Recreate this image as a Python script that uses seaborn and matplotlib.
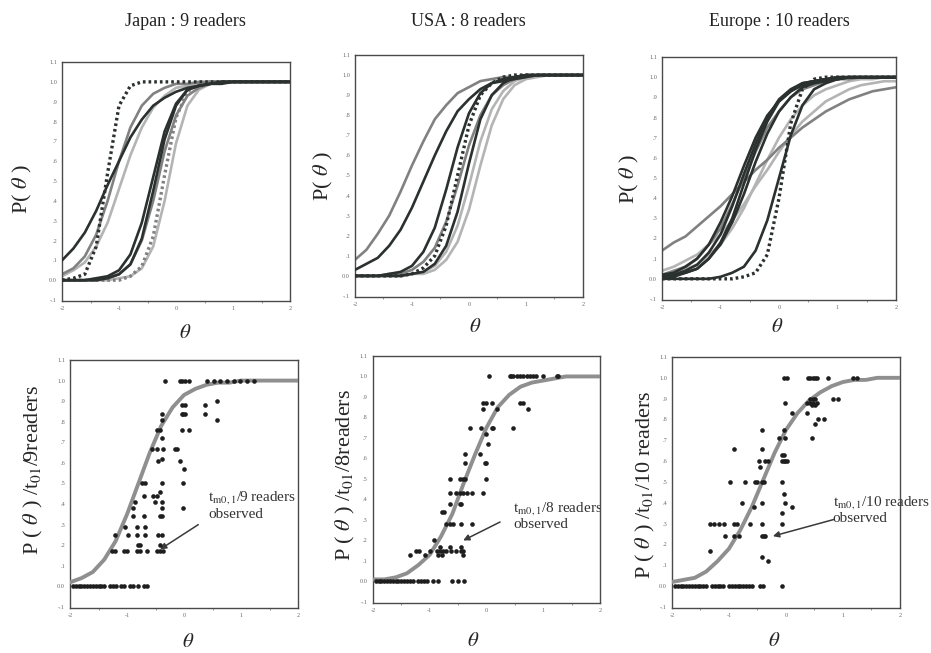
import numpy as np
import pandas as pd
import seaborn as sns
import matplotlib.pyplot as plt
from matplotlib.ticker import MultipleLocator

sns.set_style("white")
plt.rcParams['font.family'] = ['Liberation Serif', 'DejaVu Serif']
plt.rcParams['mathtext.fontset'] = 'stix'

# REJILLA DE THETA DONDE SE LEEN LAS CURVAS
theta_grid = [-2.0, -1.8, -1.6, -1.4, -1.2, -1.0, -0.8, -0.6, -0.4, -0.2, 0.0,
              0.2, 0.4, 0.6, 0.8, 1.0, 1.2, 1.4, 1.6, 1.8, 2.0]

# CURVAS DE CADA LECTOR - JAPON (9)
jp_curves = [
    [0.00, 0.01, 0.03, 0.17, 0.54, 0.88, 0.98, 1.00, 1.00, 1.00, 1.00, 1.00, 1.00, 1.00, 1.00, 1.00, 1.00, 1.00, 1.00, 1.00, 1.00],
    [0.10, 0.16, 0.24, 0.35, 0.48, 0.60, 0.72, 0.81, 0.88, 0.92, 0.95, 0.97, 0.98, 0.99, 0.99, 1.00, 1.00, 1.00, 1.00, 1.00, 1.00],
    [0.03, 0.06, 0.12, 0.23, 0.40, 0.60, 0.77, 0.88, 0.94, 0.97, 0.99, 0.99, 1.00, 1.00, 1.00, 1.00, 1.00, 1.00, 1.00, 1.00, 1.00],
    [0.02, 0.05, 0.09, 0.17, 0.29, 0.46, 0.63, 0.77, 0.87, 0.93, 0.97, 0.98, 0.99, 1.00, 1.00, 1.00, 1.00, 1.00, 1.00, 1.00, 1.00],
    [0.00, 0.00, 0.00, 0.01, 0.02, 0.05, 0.13, 0.29, 0.52, 0.75, 0.89, 0.96, 0.98, 0.99, 1.00, 1.00, 1.00, 1.00, 1.00, 1.00, 1.00],
    [0.00, 0.00, 0.00, 0.00, 0.01, 0.03, 0.08, 0.21, 0.45, 0.71, 0.88, 0.96, 0.98, 0.99, 1.00, 1.00, 1.00, 1.00, 1.00, 1.00, 1.00],
    [0.00, 0.00, 0.00, 0.00, 0.01, 0.03, 0.08, 0.20, 0.40, 0.65, 0.83, 0.93, 0.97, 0.99, 1.00, 1.00, 1.00, 1.00, 1.00, 1.00, 1.00],
    [0.00, 0.00, 0.00, 0.00, 0.00, 0.00, 0.02, 0.07, 0.22, 0.53, 0.82, 0.95, 0.99, 1.00, 1.00, 1.00, 1.00, 1.00, 1.00, 1.00, 1.00],
    [0.00, 0.00, 0.00, 0.00, 0.00, 0.01, 0.02, 0.06, 0.17, 0.40, 0.69, 0.88, 0.96, 0.99, 1.00, 1.00, 1.00, 1.00, 1.00, 1.00, 1.00],
]
jp_tones = ['dark', 'dark', 'grey', 'light', 'dark', 'dark', 'grey', 'grey', 'light']
jp_dotted = [True, False, False, False, False, False, False, True, False]

# CURVAS DE CADA LECTOR - USA (8)
us_curves = [
    [0.08, 0.13, 0.21, 0.30, 0.42, 0.55, 0.67, 0.78, 0.85, 0.91, 0.94, 0.97, 0.98, 0.99, 0.99, 1.00, 1.00, 1.00, 1.00, 1.00, 1.00],
    [0.03, 0.06, 0.09, 0.15, 0.23, 0.34, 0.47, 0.60, 0.72, 0.82, 0.88, 0.93, 0.96, 0.97, 0.98, 0.99, 1.00, 1.00, 1.00, 1.00, 1.00],
    [0.00, 0.00, 0.00, 0.01, 0.02, 0.05, 0.12, 0.24, 0.43, 0.64, 0.81, 0.91, 0.96, 0.98, 0.99, 1.00, 1.00, 1.00, 1.00, 1.00, 1.00],
    [0.00, 0.00, 0.00, 0.00, 0.00, 0.01, 0.04, 0.10, 0.25, 0.50, 0.75, 0.90, 0.96, 0.99, 1.00, 1.00, 1.00, 1.00, 1.00, 1.00, 1.00],
    [0.00, 0.00, 0.00, 0.01, 0.01, 0.03, 0.07, 0.14, 0.27, 0.45, 0.65, 0.80, 0.90, 0.95, 0.98, 0.99, 1.00, 1.00, 1.00, 1.00, 1.00],
    [0.00, 0.00, 0.00, 0.00, 0.00, 0.01, 0.02, 0.06, 0.15, 0.32, 0.56, 0.78, 0.90, 0.96, 0.99, 1.00, 1.00, 1.00, 1.00, 1.00, 1.00],
    [0.00, 0.00, 0.00, 0.00, 0.00, 0.01, 0.02, 0.05, 0.12, 0.25, 0.45, 0.67, 0.83, 0.92, 0.97, 0.99, 1.00, 1.00, 1.00, 1.00, 1.00],
    [0.00, 0.00, 0.00, 0.00, 0.00, 0.01, 0.01, 0.03, 0.08, 0.17, 0.33, 0.55, 0.75, 0.88, 0.95, 0.98, 0.99, 1.00, 1.00, 1.00, 1.00],
]
us_tones = ['grey', 'dark', 'dark', 'dark', 'grey', 'dark', 'light', 'light']
us_dotted = [False, False, False, True, False, False, False, False]

# CURVAS DE CADA LECTOR - EUROPA (10)
eu_curves = [
    [0.14, 0.18, 0.21, 0.26, 0.31, 0.36, 0.42, 0.48, 0.54, 0.59, 0.65, 0.70, 0.75, 0.79, 0.83, 0.86, 0.89, 0.91, 0.93, 0.94, 0.95],
    [0.04, 0.06, 0.09, 0.12, 0.17, 0.22, 0.29, 0.37, 0.46, 0.54, 0.63, 0.71, 0.78, 0.83, 0.88, 0.91, 0.94, 0.96, 0.97, 0.98, 0.98],
    [0.02, 0.03, 0.06, 0.10, 0.17, 0.28, 0.41, 0.56, 0.70, 0.81, 0.88, 0.93, 0.96, 0.98, 0.99, 0.99, 1.00, 1.00, 1.00, 1.00, 1.00],
    [0.01, 0.02, 0.04, 0.07, 0.13, 0.22, 0.36, 0.52, 0.67, 0.80, 0.89, 0.94, 0.97, 0.98, 0.99, 1.00, 1.00, 1.00, 1.00, 1.00, 1.00],
    [0.01, 0.01, 0.03, 0.05, 0.10, 0.18, 0.30, 0.47, 0.64, 0.78, 0.88, 0.93, 0.97, 0.98, 0.99, 1.00, 1.00, 1.00, 1.00, 1.00, 1.00],
    [0.02, 0.04, 0.06, 0.10, 0.17, 0.25, 0.37, 0.50, 0.63, 0.75, 0.83, 0.90, 0.94, 0.96, 0.98, 0.99, 0.99, 1.00, 1.00, 1.00, 1.00],
    [0.01, 0.02, 0.03, 0.05, 0.10, 0.17, 0.28, 0.42, 0.58, 0.72, 0.83, 0.90, 0.95, 0.97, 0.98, 0.99, 1.00, 1.00, 1.00, 1.00, 1.00],
    [0.02, 0.03, 0.05, 0.07, 0.12, 0.17, 0.25, 0.35, 0.47, 0.59, 0.70, 0.79, 0.86, 0.91, 0.94, 0.96, 0.98, 0.99, 0.99, 1.00, 1.00],
    [0.00, 0.00, 0.00, 0.00, 0.00, 0.01, 0.03, 0.06, 0.14, 0.29, 0.50, 0.71, 0.86, 0.94, 0.97, 0.99, 1.00, 1.00, 1.00, 1.00, 1.00],
    [0.00, 0.00, 0.00, 0.00, 0.00, 0.00, 0.00, 0.01, 0.03, 0.12, 0.40, 0.77, 0.94, 0.99, 1.00, 1.00, 1.00, 1.00, 1.00, 1.00, 1.00],
]
eu_tones = ['grey', 'light', 'dark', 'dark', 'dark', 'grey', 'dark', 'light', 'dark', 'dark']
eu_dotted = [False, False, False, False, False, False, False, False, False, True]

# CURVA AJUSTADA DEL GRUPO
jp_fit = [0.02, 0.04, 0.07, 0.13, 0.22, 0.35, 0.50, 0.65, 0.78, 0.87, 0.93, 0.96, 0.98, 0.99, 0.99, 1.00, 1.00, 1.00, 1.00, 1.00, 1.00]
us_fit = [0.01, 0.01, 0.02, 0.04, 0.08, 0.13, 0.22, 0.33, 0.48, 0.62, 0.75, 0.85, 0.91, 0.95, 0.97, 0.98, 0.99, 1.00, 1.00, 1.00, 1.00]
eu_fit = [0.02, 0.03, 0.04, 0.07, 0.12, 0.18, 0.27, 0.38, 0.51, 0.64, 0.75, 0.83, 0.89, 0.93, 0.96, 0.98, 0.99, 0.99, 1.00, 1.00, 1.00]

# PROPORCIONES OBSERVADAS: NIVEL Y THETAS DE CADA FILA
jp_levels = [0.00, 0.17, 0.20, 0.25, 0.29, 0.34, 0.38, 0.41, 0.44, 0.46, 0.50,
             0.57, 0.61, 0.62, 0.67, 0.72, 0.76, 0.81, 0.84, 0.88, 0.90, 1.00]
jp_rows = [
    [-1.95, -1.90, -1.85, -1.80, -1.75, -1.70, -1.65, -1.60, -1.55, -1.50, -1.45,
     -1.40, -1.30, -1.25, -1.20, -1.10, -1.05, -0.95, -0.90, -0.80, -0.70, -0.65],
    [-1.27, -1.21, -1.06, -1.00, -0.83, -0.78, -0.65, -0.48, -0.42, -0.36],
    [-0.80, -0.77, -0.42],
    [-1.21, -0.98, -0.83, -0.68, -0.45, -0.39],
    [-1.03, -0.83, -0.68],
    [-0.89, -0.71, -0.42, -0.39],
    [-0.89, -0.39, -0.01],
    [-0.86, -0.51, -0.39],
    [-0.71, -0.54, -0.48],
    [-0.42],
    [-0.74, -0.68, -0.39, -0.01],
    [0.00],
    [-0.45, -0.07],
    [-0.39],
    [-0.57, -0.48, -0.36, -0.16, -0.13],
    [-0.39],
    [-0.48, -0.42, -0.04, 0.08],
    [-0.39, 0.57],
    [-0.39, -0.04, -0.01, 0.02, 0.37],
    [-0.04, 0.02, 0.37],
    [0.58],
    [-0.33, -0.07, -0.04, 0.02, 0.08, 0.40, 0.52, 0.64, 0.75, 0.87, 0.99, 1.10, 1.22],
]

us_levels = [0.00, 0.13, 0.15, 0.17, 0.20, 0.28, 0.34, 0.38, 0.43, 0.50,
             0.58, 0.62, 0.67, 0.72, 0.75, 0.84, 0.87, 1.00]
us_rows = [
    [-1.95, -1.90, -1.85, -1.80, -1.75, -1.70, -1.65, -1.60, -1.55, -1.50, -1.45, -1.40,
     -1.35, -1.30, -1.20, -1.15, -1.10, -1.05, -0.95, -0.85, -0.60, -0.50, -0.40],
    [-1.35, -1.09, -0.85, -0.79, -0.41],
    [-1.24, -1.18, -1.00, -0.88, -0.82, -0.76, -0.71, -0.62, -0.53, -0.44, -0.41],
    [-0.82, -0.65, -0.44],
    [-0.93],
    [-0.71, -0.65, -0.59, -0.44, -0.26],
    [-0.78, -0.74],
    [-0.65, -0.47, -0.44],
    [-0.65, -0.53, -0.47, -0.41, -0.35, -0.26, -0.06],
    [-0.65, -0.47, -0.41, -0.38, 0.00],
    [-0.38, -0.03, 0.00],
    [-0.38, -0.12],
    [0.03],
    [0.00],
    [-0.29, -0.09, 0.09, 0.12, 0.47],
    [-0.06, 0.18, 0.74],
    [-0.06, 0.00, 0.09, 0.59, 0.65],
    [0.04, 0.41, 0.44, 0.47, 0.53, 0.59, 0.65, 0.71, 0.76, 0.82, 0.88, 1.00, 1.24, 1.26],
]

eu_levels = [0.00, 0.12, 0.14, 0.17, 0.24, 0.30, 0.35, 0.38, 0.40, 0.44, 0.50, 0.57,
             0.60, 0.63, 0.66, 0.71, 0.75, 0.78, 0.80, 0.83, 0.87, 0.88, 0.90, 1.00]
eu_rows = [
    [-1.95, -1.90, -1.85, -1.80, -1.75, -1.70, -1.65, -1.60, -1.55, -1.50, -1.45, -1.40,
     -1.30, -1.25, -1.20, -1.15, -1.10, -1.00, -0.95, -0.90, -0.85, -0.80, -0.75, -0.70,
     -0.65, -0.60, -0.45, -0.40, -0.07],
    [-0.31],
    [-0.42],
    [-1.33],
    [-1.07, -0.92, -0.83, -0.42, -0.39, -0.36],
    [-1.33, -1.27, -1.18, -1.09, -0.92, -0.86, -0.63, -0.42, -0.07],
    [-0.07],
    [-0.57, 0.10],
    [-0.77, -0.42, -0.01],
    [-0.04],
    [-0.98, -0.72, -0.54, -0.51, -0.42, -0.39, -0.07],
    [-0.45],
    [-0.48, -0.36, -0.31, -0.07, -0.04, -0.01, 0.01],
    [-0.07, -0.04],
    [-0.92, -0.42],
    [-0.13, -0.01, 0.45],
    [-0.42, -0.04],
    [0.51],
    [0.57, 0.66],
    [0.10, 0.36],
    [0.45, 0.51],
    [-0.01, 0.36, 0.42, 0.48, 0.54],
    [0.42, 0.48, 0.51, 0.83, 0.92],
    [-0.04, 0.01, 0.39, 0.42, 0.48, 0.51, 0.54, 0.74, 1.18, 1.24],
]

# EJES
xtick_vals = [-2, -1, 0, 1, 2]
xtick_labels = ['-2', '-1', '0', '1', '2']
ytick_vals = [-0.1, 0.0, 0.1, 0.2, 0.3, 0.4, 0.5, 0.6, 0.7, 0.8, 0.9, 1.0, 1.1]
ytick_labels = ['-.1', '0.0', '.1', '.2', '.3', '.4', '.5', '.6', '.7', '.8', '.9', '1.0', '1.1']

colores = {'dark': '#2b312f', 'grey': '#818181', 'light': '#b4b4b4'}
capas = {'dark': 3, 'grey': 2.5, 'light': 2}


def ejes(ax):
    ax.set_xlim(-2, 2)
    ax.set_ylim(-0.105, 1.1)
    ax.set_xticks(xtick_vals)
    ax.set_xticklabels(xtick_labels)
    ax.xaxis.set_minor_locator(MultipleLocator(0.5))
    ax.set_yticks(ytick_vals)
    ax.set_yticklabels(ytick_labels)
    ax.tick_params(which='major', direction='out', length=2.2, width=0.6,
                   labelsize=4.5, colors='#6a6a6a', pad=1.5)
    ax.tick_params(which='minor', direction='out', length=1.5, width=0.5, colors='#6a6a6a')
    ax.tick_params(axis='x', which='minor', bottom=True)
    for s in ax.spines.values():
        s.set_color('#4a4a4a')
        s.set_linewidth(1.0)


def curvas(ax, curves, tones, dotted):
    for vals, tono, punteada in zip(curves, tones, dotted):
        sns.lineplot(x=theta_grid, y=vals, ax=ax, color=colores[tono],
                     linewidth=2.4 if punteada else 1.9,
                     linestyle=(0, (0.8, 0.9)) if punteada else '-',
                     zorder=capas[tono], legend=False)


def observados(ax, levels, rows, fit):
    obs_theta, obs_p = [], []
    for nivel, fila in zip(levels, rows):
        obs_theta += fila
        obs_p += [nivel] * len(fila)
    df = pd.DataFrame({'theta': obs_theta, 'p': obs_p})
    sns.lineplot(x=theta_grid, y=fit, ax=ax, color='#8f8f8f', linewidth=2.8,
                 zorder=3, legend=False)
    sns.scatterplot(data=df, x='theta', y='p', ax=ax, color='#1e1e1e', s=11,
                    linewidth=0, zorder=4, legend=False)


fig = plt.figure(figsize=(9.31, 6.53), dpi=100)

top = [
    ('Japan : 9 readers', 185, jp_curves, jp_tones, jp_dotted,
     (0.0666, 0.539, 0.2449, 0.366), (-0.175, 0.47), (0.54, -0.135)),
    ('USA : 8 readers', 468, us_curves, us_tones, us_dotted,
     (0.3813, 0.5452, 0.2449, 0.3706), (-0.14, 0.5), (0.526, -0.128)),
    ('Europe : 10 readers', 779, eu_curves, eu_tones, eu_dotted,
     (0.7111, 0.5406, 0.2513, 0.3721), (-0.137, 0.5), (0.49, -0.112)),
]
for titulo, tx, curves, tones, dotted, rect, ylab, xlab in top:
    ax = fig.add_axes(rect)
    curvas(ax, curves, tones, dotted)
    ejes(ax)
    ax.set_ylabel(r'P( $\theta$ )', fontsize=16, va='center')
    ax.yaxis.set_label_coords(*ylab)
    ax.set_xlabel(r'$\theta$', fontsize=15, va='center')
    ax.xaxis.set_label_coords(*xlab)
    fig.text(tx / 931, 1 - 22 / 653, titulo, ha='center', va='center',
             fontsize=13, color='#222222')

bottom = [
    (jp_levels, jp_rows, jp_fit, (0.0752, 0.0689, 0.2449, 0.3798),
     r'P ( $\theta$ ) /t$_{01}$/9readers', (-0.16, 0.556), (0.52, -0.14),
     r't$_{\mathrm{m0,1}}$/9 readers', (0.42, 0.43, 0.35), (0.25, 0.30), (-0.42, 0.18), False),
    (us_levels, us_rows, us_fit, (0.4006, 0.0766, 0.2438, 0.3783),
     r'P ( $\theta$ ) /t$_{01}$/8readers', (-0.123, 0.52), (0.44, -0.155),
     r't$_{\mathrm{m0,1}}$/8 readers', (0.47, 0.357, 0.279), (0.24, 0.29), (-0.41, 0.20), True),
    (eu_levels, eu_rows, eu_fit, (0.7218, 0.0689, 0.2449, 0.3844),
     r'P ( $\theta$ ) /t$_{01}$/10 readers', (-0.118, 0.49), (0.45, -0.135),
     r't$_{\mathrm{m0,1}}$/10 readers', (0.82, 0.40, 0.325), (0.84, 0.32), (-0.23, 0.24), False),
]
for levels, rows, fit, rect, ylabel, ylab, xlab, nota, pos, cola, punta, recorte in bottom:
    ax = fig.add_axes(rect)
    observados(ax, levels, rows, fit)
    ejes(ax)
    ax.set_ylabel(ylabel, fontsize=16, va='center')
    ax.yaxis.set_label_coords(*ylab)
    ax.set_xlabel(r'$\theta$', fontsize=15, va='center')
    ax.xaxis.set_label_coords(*xlab)
    ax.text(pos[0], pos[1], nota, fontsize=11, ha='left', va='center',
            color='#333333', clip_on=recorte)
    ax.text(pos[0], pos[2], 'observed', fontsize=11, ha='left', va='center',
            color='#333333', clip_on=recorte)
    ax.annotate('', xy=punta, xytext=cola,
                arrowprops=dict(arrowstyle='-|>', color='#3a3a3a', lw=1.1,
                                mutation_scale=9, shrinkA=0, shrinkB=0))

plt.savefig('out.png', dpi=100)
